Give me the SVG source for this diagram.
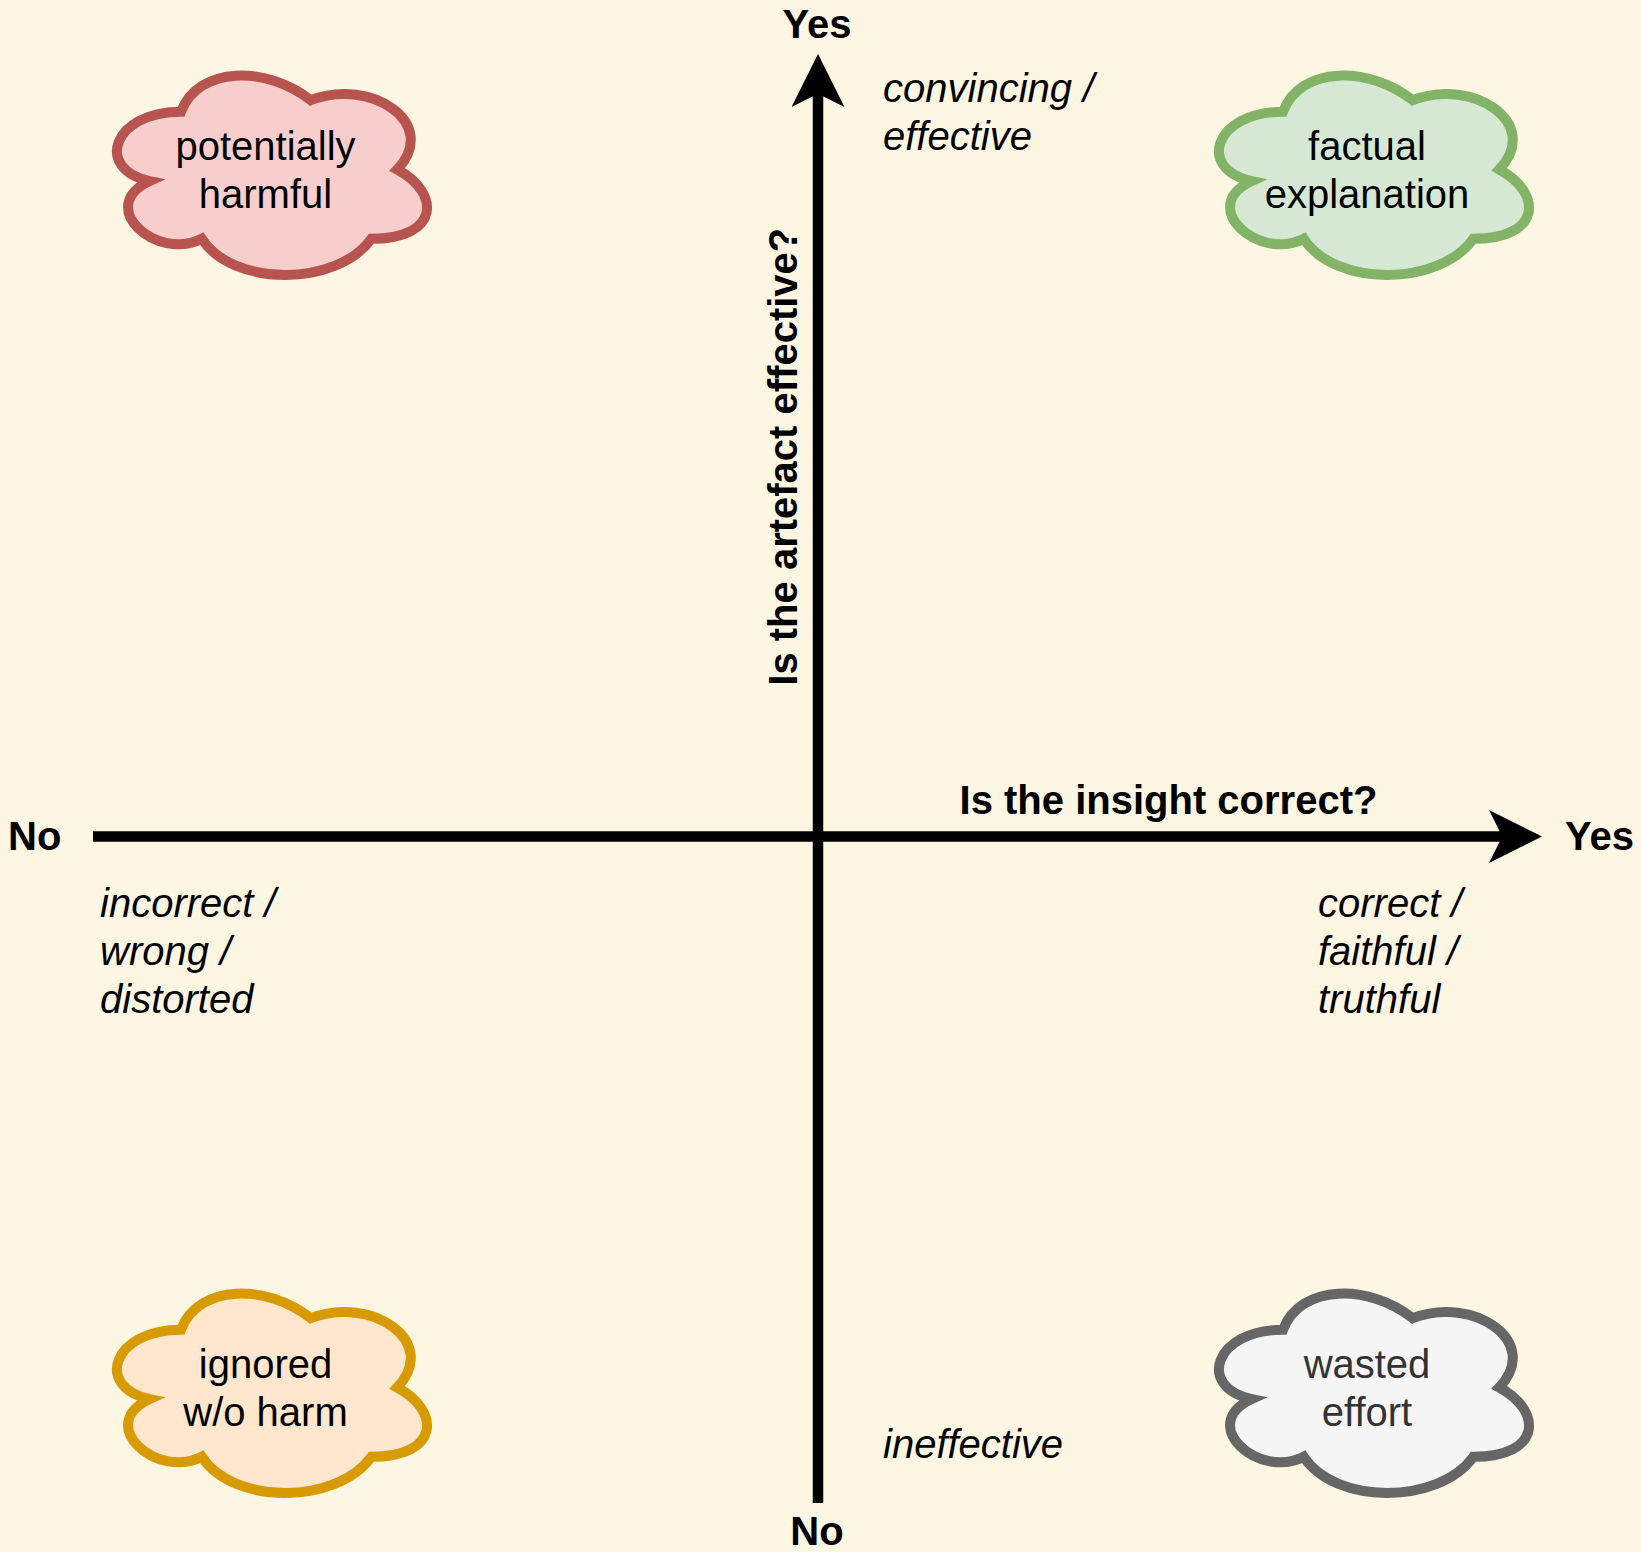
<svg xmlns="http://www.w3.org/2000/svg" xmlns:xlink="http://www.w3.org/1999/xlink" width="1641" height="1552" viewBox="0 0 1641 1552">
<style>
text{font-family:"Liberation Sans",Arial,Helvetica,sans-serif;font-size:40px;fill:#000}
.b{font-weight:bold}
.i{font-style:italic}
.c{text-anchor:middle}
.ax{stroke:#000;stroke-width:10.5;fill:none}
.cl{stroke-width:10}
.red{fill:#f8cecc;stroke:#b85450}
.green{fill:#d5e8d4;stroke:#82b366}
.orange{fill:#ffe6cc;stroke:#d79b00}
.gray{fill:#f5f5f5;stroke:#666666}
</style>
<defs>
<path id="cloud" d="M86.5,57.75 C17.3,57.75 0,115.5 55.36,127.05 C0,152.46 62.28,207.9 107.26,184.8 C138.4,233 242.2,233 276.8,184.8 C346,184.8 346,138.6 302.75,115.5 C346,69.3 276.8,23.1 216.25,46.2 C173,11.55 103.8,11.55 86.5,57.75 Z"/>
<marker id="arr" markerUnits="userSpaceOnUse" markerWidth="53" markerHeight="53" viewBox="0 0 53 53" refX="14" refY="26.5" orient="auto">
<path d="M0,0 L53,26.5 L0,53 L13.25,26.5 Z" fill="#000"/>
</marker>
</defs>
<rect width="1641" height="1552" fill="#fdf6e3"/>
<g id="connectors">
<line class="ax" x1="93" y1="836.5" x2="1503" y2="836.5" marker-end="url(#arr)"/>
<line class="ax" x1="818" y1="1503" x2="818" y2="93" marker-end="url(#arr)"/>
</g>
<g id="axis-labels">
<text class="b c" x="817" y="38">Yes</text>
<text class="b c" x="817" y="1545">No</text>
<text class="b" x="8" y="850">No</text>
<text class="b" x="1565" y="850">Yes</text>
<text class="b c" x="1168.5" y="814">Is the insight correct?</text>
<text class="b c" transform="translate(797,456.7) rotate(-90)">Is the artefact effective?</text>
</g>
<g id="descriptors">
<text class="i" x="883" y="102">convincing /</text>
<text class="i" x="883" y="150">effective</text>
<text class="i" x="883" y="1458">ineffective</text>
<text class="i" x="100" y="917">incorrect /</text>
<text class="i" x="100" y="965">wrong /</text>
<text class="i" x="100" y="1013">distorted</text>
<text class="i" x="1318" y="917">correct /</text>
<text class="i" x="1318" y="965">faithful /</text>
<text class="i" x="1318" y="1013">truthful</text>
</g>
<g id="potentially-harmful">
<use xlink:href="#cloud" class="cl red" transform="translate(94.5,54)"/>
<text class="c" x="265.5" y="160">potentially</text>
<text class="c" x="265.5" y="208">harmful</text>
</g>
<g id="factual-explanation">
<use xlink:href="#cloud" class="cl green" transform="translate(1196.5,54)"/>
<text class="c" x="1367" y="160">factual</text>
<text class="c" x="1367" y="208">explanation</text>
</g>
<g id="ignored-without-harm">
<use xlink:href="#cloud" class="cl orange" transform="translate(94.5,1272)"/>
<text class="c" x="265.5" y="1378">ignored</text>
<text class="c" x="265.5" y="1426">w/o harm</text>
</g>
<g id="wasted-effort">
<use xlink:href="#cloud" class="cl gray" transform="translate(1196.5,1272)"/>
<text class="c" x="1367" y="1378" style="fill:#333333">wasted</text>
<text class="c" x="1367" y="1426" style="fill:#333333">effort</text>
</g>
</svg>
